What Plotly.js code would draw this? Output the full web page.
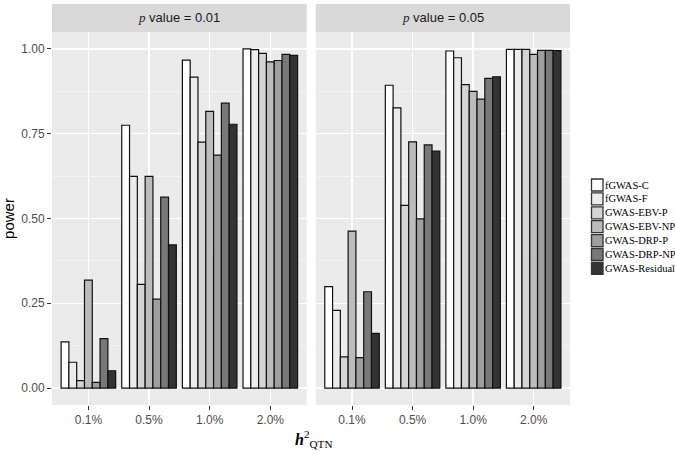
<!DOCTYPE html>
<html>
<head>
<meta charset="utf-8">
<script src="https://cdn.plot.ly/plotly-3.0.1.min.js"></script>
<style>html,body{margin:0;padding:0;background:#fff;}#chart{width:675px;height:454px;}</style>
</head>
<body>
<div id="chart"></div>
<script>
// categories (h2 QTN) and methods
const categories = ['0.1%', '0.5%', '1.0%', '2.0%'];
const methods = ['fGWAS-C', 'fGWAS-F', 'GWAS-EBV-P', 'GWAS-EBV-NP', 'GWAS-DRP-P', 'GWAS-DRP-NP', 'GWAS-Residual'];
const panelLabels = ['0.01', '0.05'];
const yTickVals = [0, 0.25, 0.5, 0.75, 1];
const yTickText = ['0.00', '0.25', '0.50', '0.75', '1.00'];

// power, p value = 0.01
const fgwasC_001     = [0.136, 0.775, 0.967, 1.000];
const fgwasF_001     = [0.076, 0.624, 0.917, 0.998];
const ebvP_001       = [0.022, 0.306, 0.725, 0.987];
const ebvNP_001      = [0.318, 0.624, 0.816, 0.962];
const drpP_001       = [0.017, 0.262, 0.687, 0.966];
const drpNP_001      = [0.146, 0.563, 0.840, 0.984];
const residual_001   = [0.051, 0.422, 0.778, 0.981];

// power, p value = 0.05
const fgwasC_005     = [0.299, 0.893, 0.994, 0.999];
const fgwasF_005     = [0.229, 0.826, 0.974, 0.999];
const ebvP_005       = [0.092, 0.539, 0.895, 0.999];
const ebvNP_005      = [0.463, 0.726, 0.875, 0.984];
const drpP_005       = [0.090, 0.499, 0.852, 0.996];
const drpNP_005      = [0.284, 0.717, 0.913, 0.996];
const residual_005   = [0.161, 0.699, 0.918, 0.995];

const series001 = [fgwasC_001, fgwasF_001, ebvP_001, ebvNP_001, drpP_001, drpNP_001, residual_001];
const series005 = [fgwasC_005, fgwasF_005, ebvP_005, ebvNP_005, drpP_005, drpNP_005, residual_005];

const fills = ['#FFFFFF', '#EBEBEB', '#D5D5D5', '#BCBCBC', '#9F9F9F', '#787878', '#333333'];

// page geometry (pixels)
const W = 675, H = 454;
const M = {l: 52, r: 0, t: 32, b: 49};
const PW = W - M.l - M.r, PH = H - M.t - M.b;
const px2x = px => (px - M.l) / PW;
const px2y = py => (H - M.b - py) / PH;

const traces = [];
[series001, series005].forEach((set, p) => {
  set.forEach((vals, i) => {
    traces.push({
      type: 'bar',
      x: categories,
      y: vals,
      name: methods[i],
      showlegend: false,
      xaxis: p === 0 ? 'x' : 'x2',
      yaxis: 'y',
      marker: {color: fills[i], line: {color: '#111111', width: 1.2}},
      hoverinfo: 'x+y+name'
    });
  });
});

const tickFont = {family: 'Liberation Sans, Arial, sans-serif', size: 12, color: '#4d4d4d'};
const xCommon = {
  type: 'category',
  categoryarray: categories,
  range: [-0.6, 3.6],
  showgrid: true, gridcolor: '#ffffff', gridwidth: 1.4,
  ticks: 'outside', ticklen: 4, tickcolor: '#333333', tickwidth: 1,
  tickfont: tickFont,
  zeroline: false, showline: false,
  anchor: 'y'
};

const stripTop = 1 + 28 / PH;
const shapes = [
  {type: 'rect', xref: 'x domain', yref: 'paper', x0: 0, x1: 1, y0: 1, y1: stripTop, fillcolor: '#d9d9d9', line: {width: 0}, layer: 'below'},
  {type: 'rect', xref: 'x2 domain', yref: 'paper', x0: 0, x1: 1, y0: 1, y1: stripTop, fillcolor: '#d9d9d9', line: {width: 0}, layer: 'below'}
];
const annotations = [
  {xref: 'x domain', yref: 'paper', x: 0.5, y: (1 + stripTop) / 2, yanchor: 'middle', showarrow: false,
   text: '<span style="font-family:Liberation Serif, serif"><i>p</i></span> value = ' + panelLabels[0],
   font: {family: 'Liberation Sans, Arial, sans-serif', size: 13, color: '#1a1a1a'}},
  {xref: 'x2 domain', yref: 'paper', x: 0.5, y: (1 + stripTop) / 2, yanchor: 'middle', showarrow: false,
   text: '<span style="font-family:Liberation Serif, serif"><i>p</i></span> value = ' + panelLabels[1],
   font: {family: 'Liberation Sans, Arial, sans-serif', size: 13, color: '#1a1a1a'}},
  {xref: 'paper', yref: 'paper', x: px2x(314), y: px2y(439), yanchor: 'middle', xanchor: 'center', showarrow: false,
   text: '<b><i>h</i></b><sup>2</sup><sub>QTN</sub>',
   font: {family: 'Liberation Serif, Times New Roman, serif', size: 16, color: '#000000'}}
];

// legend (ggplot-style, drawn as keys + labels)
methods.forEach((m, i) => {
  const cy = 185 + 13.9 * i;
  shapes.push({type: 'rect', xref: 'paper', yref: 'paper',
    x0: px2x(591.5), x1: px2x(603), y0: px2y(cy + 6), y1: px2y(cy - 6),
    fillcolor: fills[i], line: {color: '#333333', width: 1.3}});
  annotations.push({xref: 'paper', yref: 'paper', x: px2x(603.5), y: px2y(cy), xanchor: 'left', yanchor: 'middle',
    showarrow: false, text: m, borderpad: 0,
    font: {family: 'Liberation Serif, Times New Roman, serif', size: 10.5, color: '#000000'}});
});

const layout = {
  width: W, height: H,
  margin: {l: M.l, r: M.r, t: M.t, b: M.b, pad: 0},
  paper_bgcolor: '#ffffff',
  plot_bgcolor: '#ebebeb',
  barmode: 'group',
  bargap: 0.1,
  bargroupgap: 0,
  showlegend: false,
  xaxis: Object.assign({}, xCommon, {domain: [0, px2x(306.7)]}),
  xaxis2: Object.assign({}, xCommon, {domain: [px2x(315.7), px2x(570)]}),
  yaxis: {
    range: [-0.05, 1.05],
    tickvals: yTickVals,
    ticktext: yTickText,
    showgrid: true, gridcolor: '#ffffff', gridwidth: 1.4,
    minor: {tickvals: [0.125, 0.375, 0.625, 0.875], showgrid: true, gridcolor: '#f7f7f7', gridwidth: 0.7, ticks: ''},
    ticks: 'outside', ticklen: 4, tickcolor: '#333333', tickwidth: 1,
    tickfont: tickFont,
    zeroline: false, showline: false,
    anchor: 'x',
    title: {text: 'power', font: {family: 'Liberation Sans, Arial, sans-serif', size: 15, color: '#000000'}, standoff: 6}
  },
  shapes: shapes,
  annotations: annotations
};

Plotly.newPlot('chart', traces, layout, {displayModeBar: false, staticPlot: true});
</script>
</body>
</html>
